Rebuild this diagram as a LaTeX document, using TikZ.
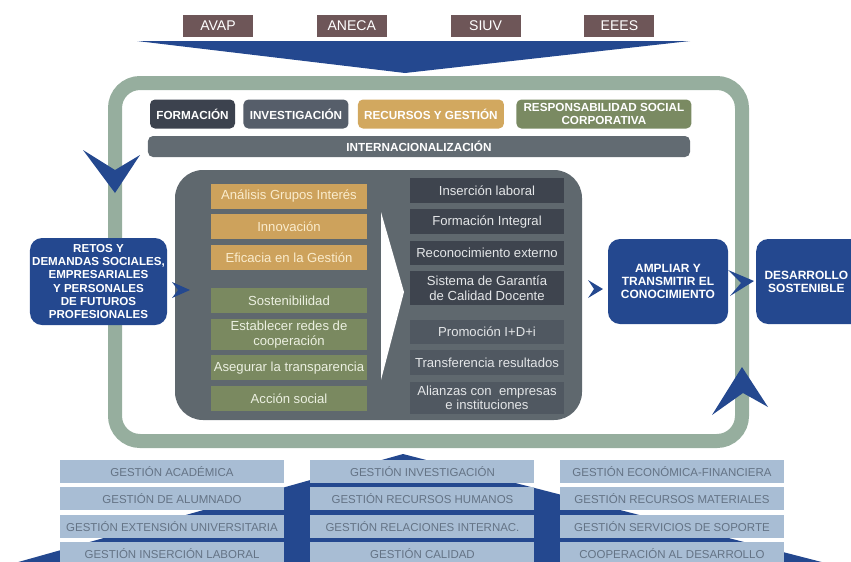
\documentclass[tikz,border=0pt]{standalone}
\usepackage{fontspec}
\setmainfont{Liberation Sans}
\usetikzlibrary{positioning}

\definecolor{uvBlue}{RGB}{36, 72, 143}
\definecolor{frameGreen}{RGB}{150, 174, 158}
\definecolor{agencyBrown}{RGB}{110, 86, 88}
\definecolor{panelGray}{RGB}{95, 104, 110}
\definecolor{formGray}{RGB}{60, 66, 78}
\definecolor{invGray}{RGB}{86, 94, 106}
\definecolor{recGold}{RGB}{210, 168, 95}
\definecolor{rscGreen}{RGB}{122, 138, 98}
\definecolor{intGray}{RGB}{98, 107, 114}
\definecolor{axisGold}{RGB}{205, 162, 92}
\definecolor{axisGreen}{RGB}{122, 137, 96}
\definecolor{goldText}{RGB}{250, 236, 205}
\definecolor{greenText}{RGB}{236, 240, 225}
\definecolor{goalDark}{RGB}{62, 68, 78}
\definecolor{goalMid}{RGB}{80, 88, 97}
\definecolor{goalText}{RGB}{228, 230, 232}
\definecolor{barBlue}{RGB}{168, 189, 212}
\definecolor{barText}{RGB}{100, 115, 133}

\begin{document}
\begin{tikzpicture}[
    x=0.3mm, y=-0.3mm,
    agencybox/.style={rectangle, fill=agencyBrown, text=white, minimum width=21mm,
                      minimum height=6.6mm, inner sep=1pt, font=\fontsize{12}{13}\selectfont},
    header/.style={rectangle, rounded corners=1.5mm, minimum height=8.7mm, inner sep=1pt,
                   align=center, text=white, font=\fontsize{10}{10.5}\selectfont\bfseries},
    axis/.style={rectangle, minimum width=46.8mm, minimum height=7.5mm, inner sep=1pt,
                 align=center, font=\fontsize{11.2}{12.6}\selectfont},
    goal/.style={rectangle, minimum width=46.2mm, minimum height=7.5mm, inner sep=1pt,
                 align=center, text=goalText, font=\fontsize{11.2}{12.6}\selectfont},
    bluebox/.style={rectangle, fill=uvBlue, rounded corners=3.6mm, text=white, align=center,
                    minimum height=25.5mm, inner sep=1pt, font=\fontsize{10.2}{11.2}\selectfont\bfseries},
    bar/.style={rectangle, fill=barBlue, text=barText, minimum width=67.2mm,
                minimum height=6.9mm, inner sep=1pt, font=\fontsize{9.8}{10}\selectfont},
    chev/.style={fill=uvBlue},
  ]
    \useasboundingbox (0,0) rectangle (851,561);
    \clip (0,0) rectangle (851,561);

    % pyramid behind the management bars
    \fill[uvBlue] (403,454) -- (872,575) -- (-28,575) -- cycle;

    \node[bar] (acad) at (172,471.5) {GESTIÓN ACADÉMICA};
    \node[bar, below=1.2mm of acad] (alum) {GESTIÓN DE ALUMNADO};
    \node[bar, below=1.2mm of alum] (ext) {GESTIÓN EXTENSIÓN UNIVERSITARIA};
    \node[bar, below=1.2mm of ext] (insl) {GESTIÓN INSERCIÓN LABORAL};

    \node[bar, right=7.8mm of acad] (inv) {GESTIÓN INVESTIGACIÓN};
    \node[bar, below=1.2mm of inv] (rrhh) {GESTIÓN RECURSOS HUMANOS};
    \node[bar, below=1.2mm of rrhh] (rrii) {GESTIÓN RELACIONES INTERNAC.};
    \node[bar, below=1.2mm of rrii] (cal) {GESTIÓN CALIDAD};

    \node[bar, right=7.5mm of inv] (eco) {GESTIÓN ECONÓMICA-FINANCIERA};
    \node[bar, below=1.2mm of eco] (mat) {GESTIÓN RECURSOS MATERIALES};
    \node[bar, below=1.2mm of mat] (sop) {GESTIÓN SERVICIOS DE SOPORTE};
    \node[bar, below=1.2mm of sop] (coop) {COOPERACIÓN AL DESARROLLO};

    % cycle frame
    \draw[frameGreen, line width=4.2mm, rounded corners=7.5mm] (115,83) rectangle (742,441);
    \fill[chev] (83,150) -- (115,170) -- (140,155) -- (115,193) -- cycle;
    \fill[chev] (742,367) -- (768,407) -- (743,393) -- (712,415) -- cycle;

    % external agencies
    \node[agencybox] (avap) at (218,26) {AVAP};
    \node[agencybox, right=19mm of avap] (aneca) {ANECA};
    \node[agencybox, right=19mm of aneca] (siuv) {SIUV};
    \node[agencybox, right=19mm of siuv] (eees) {EEES};
    \fill[uvBlue] (137,41) -- (690,41) -- (405,73) -- cycle;

    % strategic lines
    \node[header, fill=formGray, minimum width=25.5mm] (form) at (192.5,114) {FORMACIÓN};
    \node[header, fill=invGray, minimum width=31.5mm, right=2.4mm of form] (invest) {INVESTIGACIÓN};
    \node[header, fill=recGold, minimum width=43.8mm, right=2.7mm of invest] (recur) {RECURSOS Y GESTIÓN};
    \node[header, fill=rscGreen, minimum width=52.5mm, right=3.6mm of recur] (rsc) {RESPONSABILIDAD SOCIAL\\CORPORATIVA};
    \node[header, fill=intGray, minimum width=162.6mm, minimum height=6.3mm] (internac) at (419,146.5) {INTERNACIONALIZACIÓN};

    % central panel
    \node[fill=panelGray, rounded corners=8.4mm, minimum width=122.1mm, minimum height=75mm] (panel) at (378.5,295) {};

    \node[axis, fill=axisGold, text=goldText] (analisis) at (289,196.5) {Análisis Grupos Interés};
    \node[axis, fill=axisGold, text=goldText, below=1.5mm of analisis] (innov) {Innovación};
    \node[axis, fill=axisGold, text=goldText, below=1.5mm of innov] (eficacia) {Eficacia en la Gestión};
    \node[axis, fill=axisGreen, text=greenText, below=5.4mm of eficacia] (sosten) {Sostenibilidad};
    \node[axis, fill=axisGreen, text=greenText, minimum height=9.3mm, below=1.5mm of sosten] (redes) {Establecer redes de\\cooperación};
    \node[axis, fill=axisGreen, text=greenText, below=1.5mm of redes] (transp) {Asegurar la transparencia};
    \node[axis, fill=axisGreen, text=greenText, below=1.5mm of transp] (accion) {Acción social};

    \fill[white] (381,212) -- (404,292) -- (381,380) -- cycle;

    \node[goal, fill=goalDark] (insercion) at (487,190.5) {Inserción laboral};
    \node[goal, fill=goalDark, below=1.8mm of insercion] (integral) {Formación Integral};
    \node[goal, fill=goalDark, minimum height=7.2mm, below=1.8mm of integral] (reconoc) {Reconocimiento externo};
    \node[goal, fill=goalDark, minimum height=10.2mm, below=1.8mm of reconoc] (sgcd) {Sistema de Garantía\\de Calidad Docente};
    \node[goal, fill=goalMid, minimum height=7.2mm, below=4.2mm of sgcd] (idi) {Promoción I+D+i};
    \node[goal, fill=goalMid, below=1.8mm of idi] (transf) {Transferencia resultados};
    \node[goal, fill=goalMid, minimum height=9.6mm, below=1.8mm of transf] (alianzas) {Alianzas con~~empresas\\e instituciones};

    % inputs and outputs
    \node[bluebox, minimum width=41.1mm, minimum height=26.1mm, font=\fontsize{9.9}{11.1}\selectfont\bfseries] (retos) at (98.5,281.5)
      {RETOS Y\\DEMANDAS SOCIALES,\\EMPRESARIALES\\Y PERSONALES\\DE FUTUROS\\PROFESIONALES};
    \node[bluebox, minimum width=36mm] (ampliar) at (668,281.5) {AMPLIAR Y\\TRANSMITIR EL\\CONOCIMIENTO};
    \node[bluebox, anchor=west, text width=37mm, align=left] (desarrollo) at (756,281.5)
      {\parbox{29.4mm}{\centering DESARROLLO\\SOSTENIBLE}};

    \fill[chev] (172,282) -- (190,290) -- (172,298) -- (178,290) -- cycle;
    \fill[chev] (588,280) -- (603,289) -- (588,298) -- (594,289) -- cycle;
    \fill[chev] (728,270) -- (754,281) -- (730,296) -- (741,283) -- cycle;
  \end{tikzpicture}
\end{document}
